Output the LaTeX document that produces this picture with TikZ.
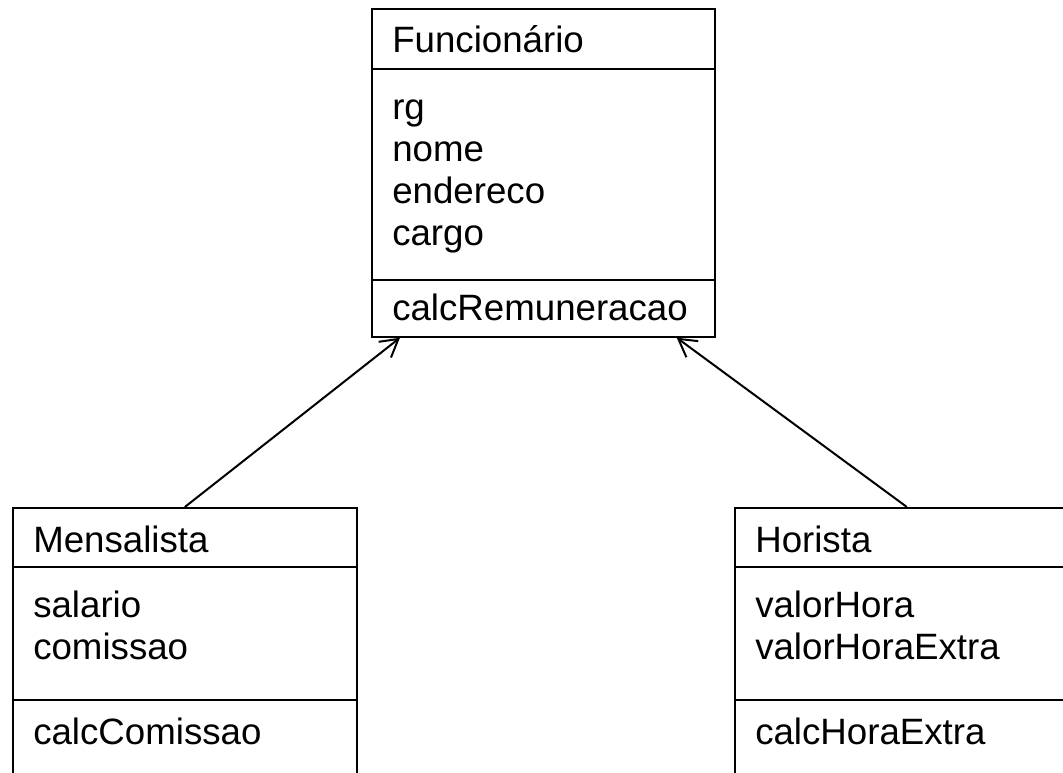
\documentclass[tikz,border=0pt]{standalone}
\usepackage{fontspec}
\setmainfont{Liberation Sans}
\usetikzlibrary{arrows.meta}

\begin{document}
\begin{tikzpicture}[x=0.75pt, y=-0.75pt,
    classbox/.style={draw, line width=1.3pt, inner sep=0pt, anchor=north west,
        minimum width=258pt},
    member/.style={anchor=base west, inner sep=0pt,
        font=\fontsize{27.5}{32}\selectfont},
    inherit/.style={line width=1.5pt, -{Straight Barb[length=13pt, width=15pt, line width=1.5pt]}}]
    \useasboundingbox (0,0) rectangle (1063,773);
    \clip (0,0) rectangle (1063,773);

    % Funcionario
    \node[classbox, minimum width=257.25pt, minimum height=246pt] (func) at (371,8) {};
    \draw[line width=1.3pt] (371,69) -- (714,69);
    \draw[line width=1.3pt] (371,280) -- (714,280);
    \node[member] (funcname) at (392,53) {Funcionário};
    \foreach \attr [count=\i] in {rg,nome,endereco,cargo}
        \node[member] (funcattr\i) at (392,78+42*\i) {\attr};
    \node[member] (funcop) at (392,321) {calcRemuneracao};

    % Mensalista
    \node[classbox, minimum height=212.25pt] (mens) at (12,507) {};
    \draw[line width=1.3pt] (12,567) -- (356,567);
    \draw[line width=1.3pt] (12,700) -- (356,700);
    \node[member] (mensname) at (33,552) {Mensalista};
    \node[member] (mensattr1) at (33,617) {salario};
    \node[member] (mensattr2) at (33,659) {comissao};
    \node[member] (mensop) at (33,744) {calcComissao};

    % Horista
    \node[classbox, minimum height=212.25pt] (hor) at (734,507) {};
    \draw[line width=1.3pt] (734,567) -- (1078,567);
    \draw[line width=1.3pt] (734,700) -- (1078,700);
    \node[member] (horname) at (755,552) {Horista};
    \node[member] (horattr1) at (755,617) {valorHora};
    \node[member] (horattr2) at (755,659) {valorHoraExtra};
    \node[member] (horop) at (755,744) {calcHoraExtra};

    % heranca
    \draw[inherit] (mens.north) -- ([xshift=21.75pt]func.south west);
    \draw[inherit] (hor.north) -- ([xshift=-29.25pt]func.south east);
\end{tikzpicture}
\end{document}
